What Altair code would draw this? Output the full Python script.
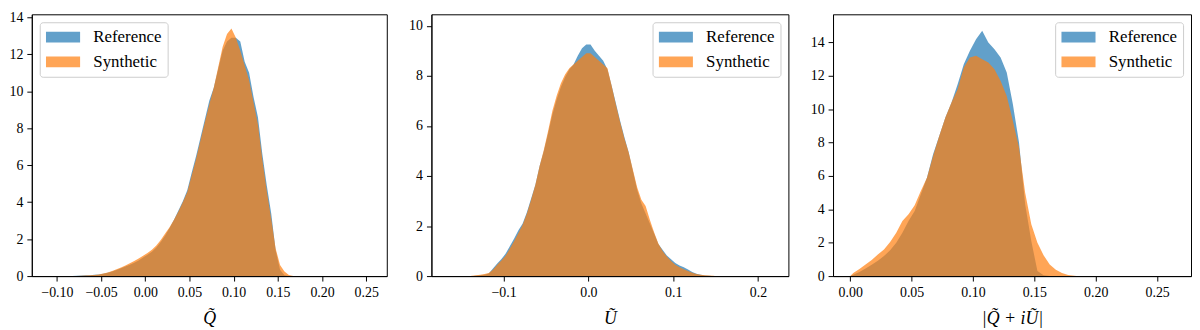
import altair as alt
import numpy as np
import pandas as pd

BW = 0.005  # histogram bin width
SERIES = ["Reference", "Synthetic"]
COLORS = ["#1f77b4", "#ff7f0e"]

# Panel 1: Q~  (bins start at -0.085)
q_first_edge = -0.085
q_ref = [0.01, 0.02, 0.03, 0.04, 0.05, 0.07, 0.09, 0.13, 0.18, 0.25,
         0.33, 0.43, 0.52, 0.62, 0.72, 0.85, 1.0, 1.15, 1.32, 1.55,
         1.85, 2.2, 2.6, 3.05, 3.55, 4.05, 4.65, 5.6, 6.5, 7.5,
         8.5, 9.5, 10.2, 11.2, 12.2, 12.7, 12.9, 12.9, 12.7, 11.6,
         11.0, 9.7, 8.6, 6.6, 4.9, 3.4, 1.4, 0.35, 0.05, 0.01, 0.0]
q_syn = [0.0, 0.01, 0.02, 0.03, 0.04, 0.06, 0.09, 0.14, 0.2, 0.28,
         0.37, 0.47, 0.58, 0.7, 0.82, 0.95, 1.1, 1.25, 1.42, 1.65,
         1.95, 2.3, 2.65, 3.05, 3.5, 4.0, 4.55, 5.45, 6.35, 7.35,
         8.35, 9.3, 10.2, 11.3, 12.4, 13.1, 13.4, 12.9, 12.2, 11.4,
         10.6, 9.4, 8.2, 6.3, 4.6, 3.1, 1.5, 0.6, 0.25, 0.06, 0.01]

# Panel 2: U~  (bins start at -0.14)
u_first_edge = -0.14
u_ref = [0.0, 0.01, 0.03, 0.05, 0.1, 0.3, 0.5, 0.68, 0.9, 1.2,
         1.5, 1.83, 2.1, 2.55, 3.1, 3.65, 4.4, 5.0, 5.7, 6.45,
         7.05, 7.55, 7.95, 8.25, 8.45, 8.8, 9.1, 9.25,
         9.25, 9.0, 8.8, 8.6, 8.25, 7.6, 6.9, 6.2, 5.55, 4.95,
         4.2, 3.45, 2.9, 2.5, 2.1, 1.7, 1.28, 1.05, 0.82, 0.67,
         0.52, 0.42, 0.35, 0.26, 0.16, 0.09, 0.05, 0.02, 0.01, 0.0]
u_syn = [0.01, 0.03, 0.05, 0.08, 0.12, 0.25, 0.45, 0.62, 0.82, 1.1,
         1.4, 1.72, 2.05, 2.5, 3.05, 3.65, 4.4, 5.05, 5.8, 6.6,
         7.2, 7.7, 8.05, 8.3, 8.45, 8.6, 8.75, 8.9,
         8.9, 8.75, 8.6, 8.45, 8.3, 7.6, 6.85, 6.15, 5.5, 4.95,
         4.25, 3.55, 3.05, 2.8, 2.25, 1.75, 1.3, 1.0, 0.78, 0.6,
         0.45, 0.35, 0.27, 0.2, 0.13, 0.08, 0.05, 0.03, 0.02, 0.01]

# Panel 3: |Q~ + iU~|  (bins start at 0.0)
p_first_edge = 0.0
p_ref = [0.08, 0.25, 0.45, 0.68, 0.92, 1.2, 1.55, 2.0, 2.6, 3.3,
         3.9, 4.9, 5.9, 7.3, 8.4, 9.5, 10.4, 11.5, 12.7, 13.5,
         14.2, 14.7, 14.0, 13.6, 13.1, 12.2, 10.3, 8.0, 4.3, 2.1,
         0.3, 0.05, 0.01, 0.0, 0.0, 0.0, 0.0]
p_syn = [0.18, 0.42, 0.7, 0.97, 1.3, 1.6, 2.05, 2.6, 3.3, 3.7,
         4.25, 5.1, 5.9, 7.2, 8.4, 9.5, 10.4, 11.2, 12.5, 13.1,
         13.2, 13.0, 12.8, 12.4, 11.7, 10.8, 9.3, 7.7, 5.0, 3.1,
         2.0, 1.25, 0.7, 0.38, 0.18, 0.07, 0.02]

q_xticks = [-0.10, -0.05, 0.0, 0.05, 0.10, 0.15, 0.20, 0.25]
u_xticks = [-0.1, 0.0, 0.1, 0.2]
p_xticks = [0.0, 0.05, 0.10, 0.15, 0.20, 0.25]
q_yticks = [0, 2, 4, 6, 8, 10, 12, 14]
u_yticks = [0, 2, 4, 6, 8, 10]
p_yticks = [0, 2, 4, 6, 8, 10, 12, 14]

FONT = "Liberation Serif"
H = 264


def frame(first_edge, ref, syn):
    """One row per bin (at the bin centre), closed with zero at both outer edges."""
    rows = []
    for name, vals in ((SERIES[0], ref), (SERIES[1], syn)):
        n = len(vals)
        centres = first_edge + BW * (np.arange(n) + 0.5)
        rows.append({"x": float(first_edge), "density": 0.0, "series": name})
        for c, v in zip(centres, vals):
            rows.append({"x": float(c), "density": v, "series": name})
        rows.append({"x": float(first_edge + BW * n), "density": 0.0, "series": name})
    return pd.DataFrame(rows)


def panel(df, xdom, xticks, xfmt, ydom, yticks, title, orient, w):
    color = alt.Color(
        "series:N",
        scale=alt.Scale(domain=SERIES, range=COLORS),
        legend=alt.Legend(
            orient=orient, title=None, offset=8, padding=6,
            fillColor="rgba(255,255,255,0.8)", strokeColor="#cccccc",
            cornerRadius=3, labelFont=FONT, labelFontSize=17,
            labelColor="black",
            symbolType="M-1,-0.32H1V0.32H-1Z", symbolSize=1183,
            symbolStrokeWidth=0, symbolOpacity=0.7,
            clipHeight=18, rowPadding=7, labelOffset=13,
        ),
    )
    enc = dict(
        x=alt.X("x:Q", scale=alt.Scale(domain=xdom, nice=False, zero=False),
                axis=alt.Axis(values=xticks, format=xfmt, title=title)),
        y=alt.Y("density:Q", stack=None,
                scale=alt.Scale(domain=ydom, nice=False, zero=True),
                axis=alt.Axis(values=yticks, format="d", title=None)),
        color=color,
    )
    base = alt.Chart(df).mark_area(interpolate="linear", opacity=0.7, clip=True)
    ref = base.transform_filter(alt.datum.series == "Reference").encode(**enc)
    syn = base.transform_filter(alt.datum.series == "Synthetic").encode(**enc)
    return alt.layer(ref, syn).properties(width=w, height=H)


p1 = panel(frame(q_first_edge, q_ref, q_syn), [-0.1284, 0.2733], q_xticks, ".2f",
           [0, 14.17], q_yticks, "Q\u0303", "top-left", 358)
p2 = panel(frame(u_first_edge, u_ref, u_syn), [-0.1851, 0.2359], u_xticks, ".1f",
           [0, 10.46], u_yticks, "\u0168", "top-right", 360)
p3 = panel(frame(p_first_edge, p_ref, p_syn), [-0.0140, 0.2776], p_xticks, ".2f",
           [0, 15.69], p_yticks, "|Q\u0303 + i\u0168|", "top-right", 361)

chart = (
    alt.hconcat(p1, p2, p3, spacing=20)
    .resolve_scale(color="independent", x="independent", y="independent")
    .resolve_legend(color="independent")
    .properties(padding={"left": 0, "top": 0, "right": 0, "bottom": 0})
    .configure_view(stroke="black", strokeWidth=1)
    .configure_axis(
        domainColor="black", tickColor="black", labelColor="black",
        titleColor="black", labelFont=FONT, titleFont=FONT,
        labelFontSize=14, titleFontSize=18, titleFontWeight="normal",
        titleFontStyle="italic", tickSize=5, tickWidth=1, domainWidth=1,
        titlePadding=10, grid=False,
        labelFlush=False, labelOverlap=False,
    )
    .configure_axisX(labelPadding=5)
    .configure_axisY(labelPadding=4)
)

chart.save("out.html", embed_options={"renderer": "svg", "actions": False})
